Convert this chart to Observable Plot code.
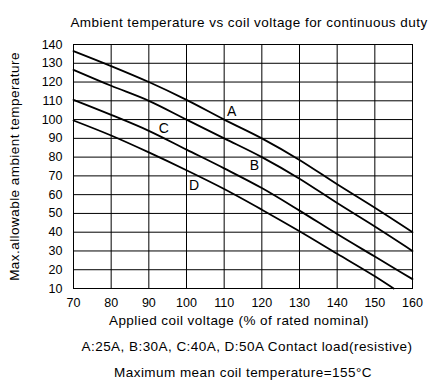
<!DOCTYPE html>
<html>
<head>
<meta charset="utf-8">
<script src="https://cdn.jsdelivr.net/npm/d3@7"></script>
<script src="https://cdn.jsdelivr.net/npm/@observablehq/plot@0.6"></script>
<style>
  html, body { margin: 0; padding: 0; background: #fff; }
  #chart svg { display: block; }
</style>
</head>
<body>
<div id="chart"></div>
<script>
const title = "Ambient temperature vs coil voltage for continuous duty";
const xLabel = "Applied coil voltage (% of rated nominal)";
const yLabel = "Max.allowable ambient temperature";
const note1 = "A:25A, B:30A, C:40A, D:50A Contact load(resistive)";
const note2 = "Maximum mean coil temperature=155°C";

const xTicks = [70, 80, 90, 100, 110, 120, 130, 140, 150, 160];
const yTicks = [10, 20, 30, 40, 50, 60, 70, 80, 90, 100, 110, 120, 130, 140];

const voltage = [70, 80, 90, 100, 110, 120, 130, 140, 150, 160];
const curveA = [136.5, 128.5, 120, 110.5, 100, 90, 78.5, 65.5, 53, 40];
const curveB = [126.5, 118, 110, 100, 90, 80, 68.5, 55.5, 43, 30];
const curveC = [110.5, 102.5, 94, 84, 74, 63.5, 51.5, 39, 27, 15];
const voltageD = [70, 80, 90, 100, 110, 120, 130, 140, 150, 155];
const curveD = [99.5, 91.5, 82.5, 73, 63, 52, 40.5, 28.5, 16.5, 10];

const labelNames = ["A", "B", "C", "D"];
const labelX = [112, 118, 94, 102];
const labelY = [104.5, 75.5, 95.5, 65];

const rows = [];
voltage.forEach((v, i) => {
  rows.push({s: "A", v, t: curveA[i]});
  rows.push({s: "B", v, t: curveB[i]});
  rows.push({s: "C", v, t: curveC[i]});
});
voltageD.forEach((v, i) => rows.push({s: "D", v, t: curveD[i]}));
const labels = labelNames.map((n, i) => ({n, x: labelX[i], y: labelY[i]}));

const font = "'Liberation Sans', Arial, sans-serif";
const big = 13.5;

const chart = Plot.plot({
  width: 430,
  height: 387,
  marginLeft: 73,
  marginRight: 18,
  marginTop: 44,
  marginBottom: 99,
  style: {fontFamily: font, fontSize: "12px", color: "#000", background: "#fff"},
  x: {domain: [70, 160]},
  y: {domain: [10, 140]},
  marks: [
    Plot.ruleX(xTicks, {stroke: "#000", strokeWidth: 1}),
    Plot.ruleY(yTicks, {stroke: "#000", strokeWidth: 1}),
    Plot.frame({stroke: "#000", strokeWidth: 1}),
    Plot.line(rows, {x: "v", y: "t", z: "s", stroke: "#000", strokeWidth: 1.8, curve: "monotone-x"}),
    Plot.text(labels, {x: "x", y: "y", text: "n", fontSize: 14, fill: "#000"}),
    Plot.axisX({ticks: xTicks, tickSize: 0, tickPadding: 10, label: null, fontSize: 12.5}),
    Plot.axisY({ticks: yTicks, tickSize: 0, tickPadding: 11, label: null, fontSize: 12.5}),
    Plot.text([title], {frameAnchor: "top", dx: 6, dy: -27, fontSize: big, fill: "#000"}),
    Plot.text([xLabel], {frameAnchor: "bottom", dx: -4, dy: 36, fontSize: big, fill: "#000"}),
    Plot.text([note1], {frameAnchor: "bottom", dx: 4, dy: 62, fontSize: big, fill: "#000"}),
    Plot.text([note2], {frameAnchor: "bottom", dx: 0, dy: 88, fontSize: big, fill: "#000"}),
    Plot.text([yLabel], {frameAnchor: "left", textAnchor: "middle", dx: -59, rotate: -90, fontSize: big, fill: "#000"})
  ]
});
const captions = [title, xLabel, yLabel, note1, note2];
d3.select(chart).selectAll("text")
  .filter(function() { return captions.includes(this.textContent); })
  .attr("letter-spacing", "0.45");
document.getElementById("chart").appendChild(chart);
</script>
</body>
</html>
